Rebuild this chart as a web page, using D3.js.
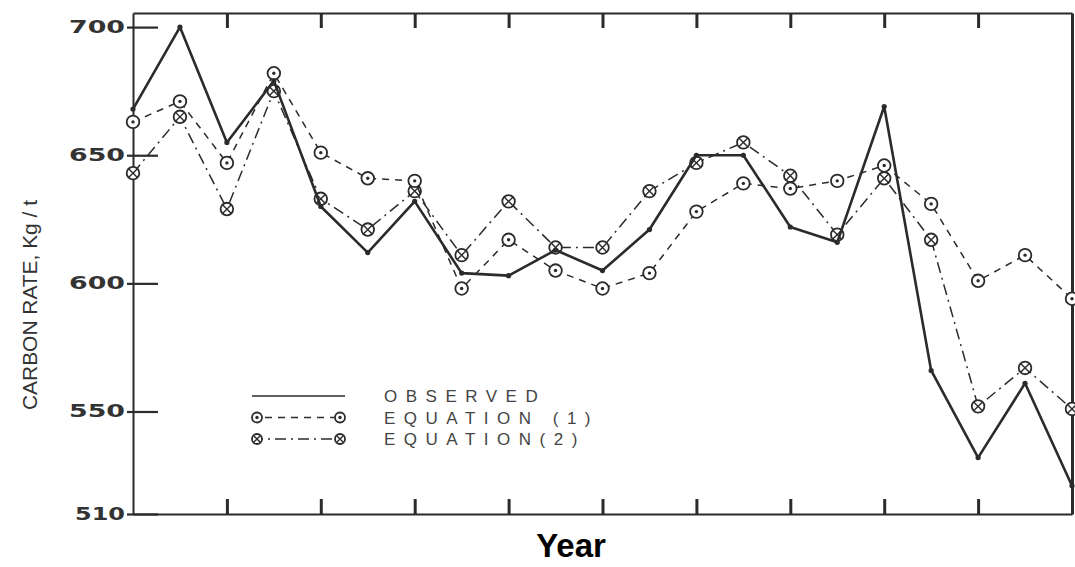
<!DOCTYPE html>
<html>
<head>
<meta charset="utf-8">
<script src="https://cdn.jsdelivr.net/npm/d3@7"></script>
<style>
  body { margin: 0; background: #fff; }
  svg { display: block; }
</style>
</head>
<body>
<div id="chart"></div>
<script>
// ============================================================================
// Carbon rate chart: observed values vs. two fitted equations
// ============================================================================

// Data
const periods = [0, 1, 2, 3, 4, 5, 6, 7, 8, 9, 10, 11, 12, 13, 14, 15, 16, 17, 18, 19, 20]
const observed = [668, 700, 655, 679, 630, 612, 632, 604, 603, 613, 605, 621, 650, 650, 622, 616, 669, 566, 532, 561, 521]
const equation1 = [663, 671, 647, 682, 651, 641, 640, 598, 617, 605, 598, 604, 628, 639, 637, 640, 646, 631, 601, 611, 594]
const equation2 = [643, 665, 629, 675, 633, 621, 636, 611, 632, 614, 614, 636, 647, 655, 642, 619, 641, 617, 552, 567, 551]
const yTickValues = [700, 650, 600, 550, 510]
const xTickValues = [2, 4, 6, 8, 10, 12, 14, 16, 18]
const legendLabels = ["OBSERVED", "EQUATION (1)", "EQUATION(2)"]

// Configuration
const CONFIG = {
  width: 1075,
  height: 567,
  plot: { left: 133, right: 1072, top: 13, bottom: 514 },
  yDomain: [510, 705.5],
  ink: "#2b2b2b",
  markerRadius: 6.3,
  legend: { x: 252, y: 396, lineLength: 93, textGap: 39, rowGap: 21.5 }
}

const series = [
  { name: legendLabels[0], values: observed, dash: null, width: 2.6, marker: "dot" },
  { name: legendLabels[1], values: equation1, dash: "7,6", width: 1.5, marker: "odot" },
  { name: legendLabels[2], values: equation2, dash: "11,5,2,5", width: 1.5, marker: "otimes" }
]

// Scales
const x = d3.scaleLinear()
  .domain([periods[0], periods[periods.length - 1]])
  .range([CONFIG.plot.left, CONFIG.plot.right])

const y = d3.scaleLinear()
  .domain(CONFIG.yDomain)
  .range([CONFIG.plot.bottom, CONFIG.plot.top])

const svg = d3.select("#chart")
  .append("svg")
  .attr("width", CONFIG.width)
  .attr("height", CONFIG.height)

// draw one marker symbol at (cx, cy)
function drawMarker(g, type, cx, cy, r) {
  if (type === "dot") {
    g.append("circle").attr("cx", cx).attr("cy", cy).attr("r", 2.6).attr("fill", CONFIG.ink)
    return
  }
  g.append("circle")
    .attr("cx", cx).attr("cy", cy).attr("r", r)
    .attr("fill", "#fff").attr("stroke", CONFIG.ink).attr("stroke-width", 1.8)
  if (type === "odot") {
    g.append("circle").attr("cx", cx).attr("cy", cy).attr("r", 1.7).attr("fill", CONFIG.ink)
  } else {
    const d = r * 0.7
    g.append("path")
      .attr("d", `M${cx - d},${cy - d}L${cx + d},${cy + d}M${cx - d},${cy + d}L${cx + d},${cy - d}`)
      .attr("stroke", CONFIG.ink).attr("stroke-width", 1.4)
  }
}

// Frame and axes
function drawAxes() {
  const { left, right, top, bottom } = CONFIG.plot

  // left axis with labels
  const yAxis = svg.append("g")
    .attr("transform", `translate(${left},0)`)
    .call(d3.axisLeft(y).tickValues(yTickValues).tickSizeOuter(0).tickPadding(10))
  yAxis.select(".domain").attr("stroke", CONFIG.ink).attr("stroke-width", 2)
  yAxis.selectAll(".tick line")
    .attr("x1", -6).attr("x2", 25)
    .attr("stroke", CONFIG.ink).attr("stroke-width", 2.2)
  yAxis.selectAll(".tick text")
    .attr("x", -8)
    .attr("fill", "#333")
    .attr("textLength", d => d === 510 ? 50 : 56)
    .attr("lengthAdjust", "spacingAndGlyphs")
    .style("font-family", "'DejaVu Sans', sans-serif")
    .style("font-weight", "bold")
    .style("font-size", "17px")

  // bottom axis, ticks pointing inward
  const xBottom = svg.append("g")
    .attr("transform", `translate(0,${bottom})`)
    .call(d3.axisBottom(x).tickValues(xTickValues).tickSize(-15).tickSizeOuter(0).tickFormat(""))
  // top axis
  const xTop = svg.append("g")
    .attr("transform", `translate(0,${top})`)
    .call(d3.axisTop(x).tickValues(xTickValues).tickSize(-15).tickSizeOuter(0).tickFormat(""))
  // right border
  const yRight = svg.append("g")
    .attr("transform", `translate(${right},0)`)
    .call(d3.axisRight(y).tickValues([]).tickSizeOuter(0))

  ;[xBottom, xTop, yRight].forEach(g => {
    g.select(".domain").attr("stroke", CONFIG.ink).attr("stroke-width", 2)
    g.selectAll(".tick line").attr("stroke", CONFIG.ink).attr("stroke-width", 3)
  })
  yRight.select(".domain").attr("stroke-width", 3)
}

// Lines and markers
function drawSeries() {
  const line = d3.line()
    .x((d, i) => x(periods[i]))
    .y(d => y(d))

  // draw equations first, observed on top
  series.slice().reverse().forEach(s => {
    const g = svg.append("g")
    g.append("path")
      .datum(s.values)
      .attr("d", line)
      .attr("fill", "none")
      .attr("stroke", CONFIG.ink)
      .attr("stroke-width", s.width)
      .attr("stroke-linejoin", "round")
      .attr("stroke-dasharray", s.dash)
    s.values.forEach((v, i) => drawMarker(g, s.marker, x(periods[i]), y(v), CONFIG.markerRadius))
  })
}

// Legend
function drawLegend() {
  const L = CONFIG.legend
  series.forEach((s, i) => {
    const g = svg.append("g").attr("transform", `translate(${L.x},${L.y + i * L.rowGap})`)
    g.append("line")
      .attr("x1", 0).attr("x2", L.lineLength)
      .attr("stroke", CONFIG.ink)
      .attr("stroke-width", 1.4)
      .attr("stroke-dasharray", s.dash)
    if (s.marker !== "dot") {
      drawMarker(g, s.marker, 5, 0, 5)
      drawMarker(g, s.marker, L.lineLength - 5, 0, 5)
    }
    g.append("text")
      .attr("x", L.lineLength + L.textGap)
      .attr("y", 0)
      .attr("dy", "0.36em")
      .attr("fill", "#444")
      .style("font-family", "'Liberation Sans', Arial, sans-serif")
      .style("font-size", "17px")
      .style("letter-spacing", "8.5px")
      .text(s.name)
  })
}

// Axis titles
function drawTitles() {
  svg.append("text")
    .attr("transform", "translate(37,305) rotate(-90)")
    .attr("text-anchor", "middle")
    .attr("fill", "#333")
    .attr("textLength", 210)
    .attr("lengthAdjust", "spacingAndGlyphs")
    .style("font-family", "'Liberation Sans', Arial, sans-serif")
    .style("font-size", "21px")
    .text("CARBON RATE, Kg / t")

  svg.append("text")
    .attr("x", 571)
    .attr("y", 557)
    .attr("text-anchor", "middle")
    .attr("fill", "#000")
    .style("font-family", "'Liberation Sans', Arial, sans-serif")
    .style("font-weight", "bold")
    .style("font-size", "33px")
    .text("Year")
}

drawAxes()
drawSeries()
drawLegend()
drawTitles()
</script>
</body>
</html>
